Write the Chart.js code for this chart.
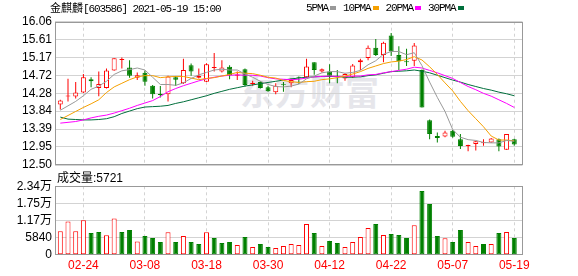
<!DOCTYPE html>
<html><head><meta charset="utf-8">
<script src="https://cdn.jsdelivr.net/npm/chart.js@4.4.0/dist/chart.umd.min.js"></script>
<style>
html,body{margin:0;padding:0;background:#fff;}
body{width:578px;height:276px;position:relative;overflow:hidden;font-family:"Liberation Sans","Noto Sans CJK SC",sans-serif;}
#wm{position:absolute;left:240px;top:74px;font:700 34px/34px "Noto Sans CJK SC";color:#e6e6eb;letter-spacing:1px;white-space:nowrap;}
canvas{position:absolute;left:0;}
#c1{top:0}
#c2{top:170px}
.t{position:absolute;white-space:nowrap;color:#000;}
#title{left:50px;top:1px;font-size:11px;line-height:14px;}
#title .m{font-family:"Liberation Mono";letter-spacing:-1.1px;}
#legend{position:absolute;left:306px;top:1px;display:flex;align-items:flex-start;font:11px/14px "Liberation Mono";letter-spacing:-1.1px;color:#000;white-space:nowrap;}
#legend .sw{display:inline-block;width:6px;height:4px;margin:5px 7px 0 2px;}
#vlab{left:57px;top:171px;font-size:12px;line-height:14px;}
</style></head>
<body>
<div id="wm">东方财富</div>
<canvas id="c1" width="578" height="180"></canvas>
<canvas id="c2" width="578" height="106"></canvas>
<div id="title" class="t"></div>
<div id="legend"></div>
<div id="vlab" class="t"></div>
<script>
const stockName = '金麒麟';
const stockCode = '603586';
const stamp = '2021-05-19 15:00';

const dates = ['02-19','02-22','02-23','02-24','02-25','02-26','03-01','03-02','03-03','03-04','03-05','03-08','03-09','03-10','03-11','03-12','03-15','03-16','03-17','03-18','03-19','03-22','03-23','03-24','03-25','03-26','03-29','03-30','03-31','04-01','04-02','04-06','04-07','04-08','04-09','04-12','04-13','04-14','04-15','04-16','04-19','04-20','04-21','04-22','04-23','04-26','04-27','04-28','04-29','04-30','05-06','05-07','05-10','05-11','05-12','05-13','05-14','05-17','05-18','05-19'];
const tickDates = ['02-24','03-08','03-18','03-30','04-12','04-22','05-07','05-19'];

const open  = [14.00,14.20,14.20,14.30,14.63,14.41,14.41,14.85,15.11,14.92,14.67,14.79,14.47,14.25,14.26,14.68,14.53,14.98,14.67,14.57,14.91,14.82,14.94,14.72,14.88,14.51,14.56,14.43,14.31,14.50,14.53,14.69,14.68,15.05,14.82,14.82,14.70,14.65,14.68,15.05,15.16,15.41,15.23,15.72,15.23,15.06,15.09,14.86,13.61,13.22,13.21,13.35,13.14,12.97,13.02,13.04,13.06,13.14,12.88,13.14];
const high  = [14.12,14.64,14.56,14.76,14.68,14.82,14.90,15.15,15.17,15.10,14.80,14.84,14.49,14.46,14.72,14.71,15.14,15.02,14.90,15.03,15.28,15.10,14.98,14.82,14.90,14.59,14.58,14.47,14.53,14.56,14.65,14.70,15.14,15.05,14.90,15.00,14.86,14.78,15.01,15.14,15.47,15.63,15.56,15.78,15.45,15.39,15.53,14.87,13.63,13.31,13.35,13.37,13.27,13.00,13.10,13.14,13.17,13.16,13.27,13.15];
const low   = [13.88,14.08,14.15,14.29,14.43,14.21,14.40,14.84,14.90,14.67,14.61,14.47,14.15,14.18,14.08,14.46,14.51,14.72,14.65,14.56,14.82,14.80,14.63,14.61,14.45,14.47,14.40,14.32,14.26,14.32,14.43,14.52,14.67,14.74,14.80,14.53,14.53,14.59,14.66,14.86,15.10,15.21,15.05,15.21,14.86,14.96,14.96,13.93,13.14,13.06,13.19,13.18,12.90,12.84,12.86,12.98,13.05,12.84,12.88,12.98];
const close = [14.10,14.22,14.30,14.68,14.58,14.51,14.85,15.15,15.12,14.72,14.73,14.57,14.26,14.24,14.70,14.62,14.86,14.82,14.71,15.00,14.93,14.92,14.73,14.75,14.49,14.53,14.41,14.33,14.47,14.48,14.61,14.67,14.95,14.86,14.88,14.72,14.69,14.76,14.97,15.10,15.41,15.23,15.54,15.32,15.08,15.05,15.47,13.93,13.27,13.17,13.31,13.20,12.97,12.98,13.09,13.05,13.16,12.96,13.27,13.01];
const volume = [7970,11380,7970,11730,7400,7740,6600,12400,7740,8420,4550,6370,5690,4330,7630,4330,6370,4330,3640,7630,5690,3980,4330,3300,6030,2620,3640,2620,2280,2960,3640,3300,10470,7400,2960,4670,3980,2620,4330,6030,9110,10470,6720,7060,6720,5690,10020,21740,17300,6370,5580,4330,8420,4330,2960,3640,3640,7400,7740,5721];

const ma5  = [13.86,13.97,14.08,14.22,14.38,14.46,14.58,14.75,14.84,14.87,14.91,14.86,14.68,14.50,14.50,14.48,14.54,14.65,14.74,14.80,14.86,14.88,14.86,14.86,14.76,14.68,14.58,14.50,14.45,14.44,14.46,14.51,14.64,14.71,14.79,14.82,14.82,14.78,14.80,14.85,14.99,15.09,15.25,15.32,15.32,15.24,15.29,14.97,14.56,14.18,13.83,13.38,13.19,13.13,13.11,13.06,13.05,13.05,13.11,13.09];
const ma10 = [13.63,13.73,13.83,13.93,14.02,14.12,14.30,14.44,14.53,14.62,14.69,14.72,14.72,14.67,14.69,14.70,14.70,14.66,14.62,14.65,14.67,14.71,14.75,14.80,14.78,14.77,14.73,14.68,14.66,14.60,14.57,14.55,14.57,14.58,14.62,14.64,14.67,14.71,14.76,14.82,14.90,14.96,15.02,15.06,15.08,15.12,15.19,15.11,14.94,14.75,14.54,14.34,14.08,13.85,13.65,13.45,13.22,13.12,13.12,13.10];
const ma20 = [13.54,13.56,13.58,13.62,13.67,13.71,13.74,13.79,13.85,13.91,13.98,14.04,14.10,14.20,14.32,14.40,14.47,14.53,14.59,14.64,14.68,14.71,14.73,14.74,14.73,14.73,14.71,14.67,14.64,14.63,14.62,14.63,14.66,14.69,14.70,14.71,14.70,14.70,14.71,14.71,14.74,14.75,14.79,14.82,14.85,14.88,14.93,14.91,14.85,14.79,14.72,14.65,14.55,14.45,14.37,14.28,14.21,14.12,14.03,13.93];
const ma30 = [13.69,13.64,13.63,13.62,13.62,13.63,13.65,13.70,13.78,13.84,13.90,13.94,13.95,13.96,13.98,14.03,14.07,14.12,14.17,14.22,14.28,14.33,14.38,14.42,14.46,14.49,14.52,14.55,14.58,14.61,14.64,14.66,14.68,14.69,14.70,14.70,14.70,14.68,14.68,14.69,14.72,14.74,14.78,14.82,14.83,14.84,14.86,14.83,14.79,14.73,14.67,14.61,14.56,14.50,14.45,14.40,14.36,14.31,14.27,14.22];
const maNames = ['5PMA','10PMA','20PMA','30PMA'];

const priceTickLabels = ['12.50','12.95','13.39','13.84','14.28','14.72','15.17','15.61','16.06'];
const volTickValues = [0,5840,11680,17520,23360];
const volTickLabels = ['0','5840','1.17万','1.75万','2.34万'];
const volLabel = '成交量';

// ---- styles ----
const RED = '#ff0000', GREEN = '#008000';
const maColors = ['#999999','#f5a000','#ff00ff','#006f3c'];
const GRID = '#d3d3d3';
const FRAME = '#999999';

// ---- html texts ----
document.getElementById('title').innerHTML = stockName + '<span class="m">[' + stockCode + '] ' + stamp + '</span>';
const lg = document.getElementById('legend');
maNames.forEach((n, k) => {
  const s = document.createElement('span'); s.textContent = n; lg.appendChild(s);
  const w = document.createElement('span'); w.className = 'sw'; w.style.background = maColors[k]; lg.appendChild(w);
});
document.getElementById('vlab').textContent = volLabel + ':' + volume[volume.length - 1];

const tickIdx = tickDates.map(d => dates.indexOf(d));
const upC = i => close[i] >= open[i];
const upV = i => i === 0 ? close[0] >= open[0] : close[i] >= close[i - 1];

const frame = {
  id: 'frame',
  beforeDatasetsDraw(ch) {
    const {ctx, chartArea: a} = ch;
    ctx.save();
    ctx.strokeStyle = FRAME; ctx.lineWidth = 1;
    const l = Math.round(a.left) + 0.5, t = Math.round(a.top) + 0.5;
    const r = Math.round(a.right) - 0.5, b = Math.round(a.bottom) - 0.5;
    ctx.strokeRect(l, t, r - l, b - t);
    ctx.restore();
  }
};

const XMIN = -0.69, XMAX = 60.07;
function xScale(showLabels, h) {
  return {
    type: 'linear', min: XMIN, max: XMAX, offset: false,
    afterBuildTicks: s => { s.ticks = tickIdx.map(v => ({value: v})); },
    afterFit: s => { s.height = h; },
    grid: {color: GRID, lineWidth: 1, drawTicks: false, offset: false},
    border: {display: false, dash: [3, 3]},
    ticks: {display: showLabels, autoSkip: false, maxRotation: 0, minRotation: 0, padding: 4, color: RED,
      font: {family: 'Liberation Sans', size: 12}, callback: v => dates[Math.round(v)]}
  };
}
const yFont = {family: "'Liberation Sans', 'Noto Sans CJK SC'", size: 12};

const common = {
  responsive: false, devicePixelRatio: 1, animation: false, events: [],
  plugins: {legend: {display: false}, tooltip: {enabled: false}}
};

new Chart(document.getElementById('c1'), {
  type: 'bar',
  data: {
    datasets: [
      ...[ma5, ma10, ma20, ma30].map((arr, k) => ({
        type: 'line', label: maNames[k], data: arr.map((v, i) => ({x: i, y: v})),
        borderColor: maColors[k], borderWidth: 1, pointRadius: 0, tension: 0, order: k
      })),
      {
        type: 'bar', label: 'body', order: 4, grouped: false,
        data: open.map((o, i) => ({x: i, y: [o, close[i]]})),
        barThickness: 5, minBarLength: 1, borderWidth: 1, borderSkipped: false, inflateAmount: 0,
        borderColor: c => upC(c.dataIndex) ? RED : GREEN,
        backgroundColor: c => upC(c.dataIndex) ? '#ffffff' : GREEN
      },
      {
        type: 'bar', label: 'wick', order: 5, grouped: false,
        data: low.map((l, i) => ({x: i, y: [l, high[i]]})),
        barThickness: 1, borderWidth: 0, inflateAmount: 0,
        backgroundColor: c => upC(c.dataIndex) ? RED : GREEN
      }
    ]
  },
  options: {
    ...common,
    layout: {padding: {left: 0, right: 55.5, top: 21.7, bottom: 0}},
    scales: {
      x: xScale(false, 15),
      y: {
        min: 12.5, max: 16.06,
        afterBuildTicks: s => { s.ticks = priceTickLabels.map(l => ({value: parseFloat(l)})); },
        afterFit: s => { s.width = 55; },
        grid: {color: GRID, drawTicks: false},
        border: {display: false},
        ticks: {autoSkip: false, padding: 3, color: '#000', font: yFont, callback: (v, i) => priceTickLabels[i]}
      }
    }
  },
  plugins: [frame]
});

new Chart(document.getElementById('c2'), {
  type: 'bar',
  data: {
    datasets: [{
      label: 'vol', grouped: false,
      data: volume.map((v, i) => ({x: i, y: v})),
      barThickness: 5, borderWidth: 1, borderSkipped: false, inflateAmount: 0,
      borderColor: c => upV(c.dataIndex) ? RED : GREEN,
      backgroundColor: c => upV(c.dataIndex) ? '#ffffff' : GREEN
    }]
  },
  options: {
    ...common,
    layout: {padding: {left: 0, right: 55.5, top: 16.3, bottom: 0}},
    scales: {
      x: xScale(true, 21.3),
      y: {
        min: 0, max: 23360,
        afterBuildTicks: s => { s.ticks = volTickValues.map(v => ({value: v})); },
        afterFit: s => { s.width = 55; },
        grid: {color: GRID, drawTicks: false},
        border: {display: false},
        ticks: {autoSkip: false, padding: 3, color: '#000', font: yFont, callback: (v, i) => volTickLabels[i]}
      }
    }
  },
  plugins: [frame]
});
</script>
</body></html>
